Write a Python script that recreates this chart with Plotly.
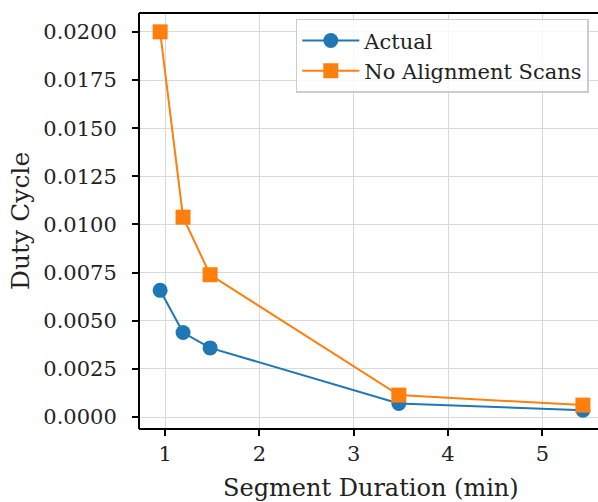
import plotly.graph_objects as go

duration = [0.947, 1.19, 1.477, 3.478, 5.43]
actual = [0.00658, 0.00439, 0.00359, 0.00071, 0.00036]
no_align = [0.0200, 0.01038, 0.00739, 0.00114, 0.00062]

font = "DejaVu Serif"
fig = go.Figure()
fig.add_trace(go.Scatter(x=duration, y=actual, name="Actual", mode="lines+markers",
                         line=dict(color="#1f77b4", width=2),
                         marker=dict(symbol="circle", size=15, color="#1f77b4")))
fig.add_trace(go.Scatter(x=duration, y=no_align, name="No Alignment Scans", mode="lines+markers",
                         line=dict(color="#ff7f0e", width=2),
                         marker=dict(symbol="square", size=15, color="#ff7f0e")))

axis_common = dict(showgrid=True, gridcolor="#d9d9d9", gridwidth=1.2, zeroline=False,
                   showline=False, automargin=False,
                   ticks="outside", ticklen=6, tickwidth=1.5, tickcolor="black",
                   tickfont=dict(family=font, size=21, color="#222"))
fig.update_xaxes(range=[0.723, 5.59], dtick=1, tick0=1, ticklabelstandoff=0,
                 **axis_common)
fig.update_yaxes(range=[-0.00062, 0.02098], dtick=0.0025, tick0=0, tickformat=".4f",
                 ticklabelstandoff=11,
                 **axis_common)
# spines: left, bottom, top (no right spine; it lies just outside the picture)
for x0, x1, y0, y1 in [(0, 0, 0, 1), (0, 1, 0, 0), (0, 1, 1, 1)]:
    fig.add_shape(type="line", xref="paper", yref="paper", x0=x0, x1=x1, y0=y0, y1=y1,
                  line=dict(color="black", width=2), layer="above")
fig.add_annotation(text="Segment Duration (min)", xref="paper", yref="paper",
                   x=0.5065, y=-0.142, xanchor="center", yanchor="middle", showarrow=False,
                   font=dict(family=font, size=24, color="#222"))
fig.add_annotation(text="Duty Cycle", xref="paper", yref="paper", textangle=-90,
                   x=-0.259, y=0.5, xanchor="center", yanchor="middle", showarrow=False,
                   font=dict(family=font, size=25, color="#222"))
fig.update_layout(width=598, height=502, margin=dict(l=139, r=0, t=13, b=73, autoexpand=False),
                  plot_bgcolor="white", paper_bgcolor="white",
                  legend=dict(x=0.98, y=0.986, xanchor="right", yanchor="top", itemwidth=57,
                              bgcolor="rgba(255,255,255,0.8)", bordercolor="#cccccc", borderwidth=1.5,
                              font=dict(family=font, size=21, color="#222")),
                  showlegend=True)
fig.write_html("out.html", config={"displayModeBar": False},
               post_script="document.body.style.margin='0';document.body.style.padding='0';"
                           "document.body.style.overflow='hidden';"
                           "document.documentElement.style.overflow='hidden';")
